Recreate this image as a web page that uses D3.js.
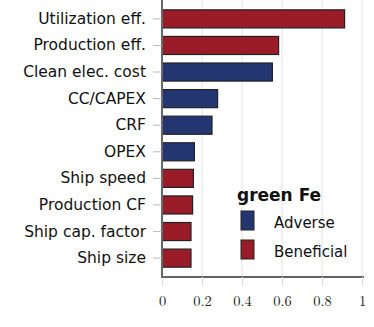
<!DOCTYPE html>
<html><head><meta charset="utf-8">
<script src="https://cdn.jsdelivr.net/npm/d3@7"></script>
<style>body{margin:0;background:#fff;}svg{display:block;}</style>
</head><body>
<svg id="c" width="374" height="327"></svg>
<script>
const categories = ["Utilization eff.","Production eff.","Clean elec. cost","CC/CAPEX","CRF","OPEX","Ship speed","Production CF","Ship cap. factor","Ship size"];
const values = [0.913,0.583,0.552,0.278,0.25,0.162,0.157,0.153,0.145,0.145];
const effects = ["Beneficial","Beneficial","Adverse","Adverse","Adverse","Adverse","Beneficial","Beneficial","Beneficial","Beneficial"];
const xTicks = [0,0.2,0.4,0.6,0.8,1];
const legendTitle = "green Fe";
const legendItems = ["Adverse","Beneficial"];
const colors = {Adverse:"#243672", Beneficial:"#9b1c29"};

const svg = d3.select("#c");
const x = d3.scaleLinear().domain([0,1]).range([162,362]);
const y = d3.scaleBand().domain(categories).range([0,277]).paddingInner(0.32).paddingOuter(0.37);

// gridlines
svg.append("g").selectAll("line").data(xTicks.slice(1)).join("line")
  .attr("x1",d=>x(d)).attr("x2",d=>x(d)).attr("y1",0).attr("y2",277)
  .attr("stroke","#e3e3e3").attr("stroke-width",1);

// x axis
const xa = svg.append("g").attr("transform","translate(0,277)")
  .call(d3.axisBottom(x).tickValues(xTicks).tickFormat(d=>d3.format("~g")(d)).tickSize(9).tickPadding(10));
xa.select(".domain").attr("stroke","#666").attr("stroke-width",2).attr("d","M162,0H364");
xa.selectAll(".tick line").attr("stroke","#ddd");
xa.selectAll(".tick text").attr("font-family","'Latin Modern Math','DejaVu Serif',serif").attr("font-size",14.5).attr("fill","#222");

// bars
svg.append("g").selectAll("rect").data(categories).join("rect")
  .attr("x",x(0)).attr("y",d=>y(d)).attr("width",(d,i)=>x(values[i])-x(0)).attr("height",y.bandwidth())
  .attr("fill",(d,i)=>colors[effects[i]]).attr("stroke","#222").attr("stroke-width",1.2);

// y axis
const ya = svg.append("g").attr("transform","translate(162,0)")
  .call(d3.axisLeft(y).tickSize(9).tickPadding(7));
ya.select(".domain").attr("stroke","#666").attr("stroke-width",2).attr("d","M0,0V278");
ya.selectAll(".tick line").attr("stroke","#bbb");
ya.selectAll(".tick text").attr("font-family","'DejaVu Sans',sans-serif").attr("font-size",15.5).attr("fill","#111");

// legend
const lg = svg.append("g");
lg.append("text").attr("x",237).attr("y",201).text(legendTitle)
  .attr("font-family","'DejaVu Sans',sans-serif").attr("font-weight","bold").attr("font-size",17).attr("fill","#111");
legendItems.forEach((k,i)=>{
  lg.append("rect").attr("x",241).attr("y",211+i*29).attr("width",13).attr("height",19)
    .attr("fill",colors[k]).attr("stroke","#222").attr("stroke-width",1);
  lg.append("text").attr("x",274).attr("y",228+i*29).text(k)
    .attr("font-family","'DejaVu Sans',sans-serif").attr("font-size",15).attr("fill","#111");
});
</script>
</body></html>
